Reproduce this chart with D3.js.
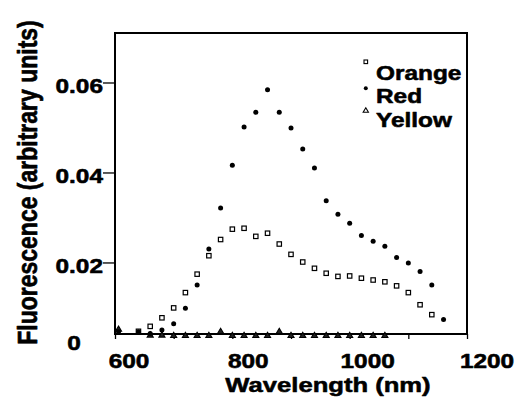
<!DOCTYPE html>
<html>
<head>
<meta charset="utf-8">
<script src="https://cdn.jsdelivr.net/npm/d3@7"></script>
<style>
  html, body { margin: 0; padding: 0; background: #fff; }
  svg { display: block; }
</style>
</head>
<body>
<svg id="chart" width="522" height="404"></svg>
<script>
// ---- data ----
const orangeWavelengths = [640, 660, 680, 700, 720, 740, 760, 780, 800, 820, 840, 860, 880,
  900, 920, 940, 960, 980, 1000, 1020, 1040, 1060, 1080, 1100, 1120, 1140];
const orangeValues = [0.0047, 0.0058, 0.0077, 0.0099, 0.0133, 0.0174, 0.0215, 0.0251, 0.0274,
  0.0276, 0.0258, 0.0265, 0.0241, 0.0218, 0.0201, 0.0187, 0.0176, 0.0169, 0.0170, 0.0165,
  0.0161, 0.0157, 0.0148, 0.0133, 0.0106, 0.0084];

const redWavelengths = [606, 640, 660, 680, 700, 720, 740, 760, 780, 800, 820, 840, 860, 880,
  900, 920, 940, 960, 980, 1000, 1020, 1040, 1060, 1080, 1100, 1120, 1140, 1160];
const redValues = [0.0046, 0.0046, 0.0042, 0.0050, 0.0064, 0.0098, 0.0150, 0.0230, 0.0321,
  0.0416, 0.0501, 0.0534, 0.0584, 0.0534, 0.0499, 0.0452, 0.0410, 0.0337, 0.0307, 0.0287,
  0.0260, 0.0247, 0.0236, 0.0211, 0.0199, 0.0180, 0.0150, 0.0073];

const yellowWavelengths = [606, 660, 680, 700, 720, 740, 760, 780, 800, 820, 840, 860, 880,
  900, 920, 940, 960, 980, 1000, 1020, 1040, 1060];
const yellowValues = [0.0051, 0.0038, 0.0038, 0.0037, 0.0037, 0.0037, 0.0037, 0.0046, 0.0037,
  0.0037, 0.0037, 0.0037, 0.0046, 0.0037, 0.0037, 0.0037, 0.0037, 0.0037, 0.0037, 0.0037,
  0.0037, 0.0037];

const seriesNames = ["Orange", "Red", "Yellow"];
const xTickValues = [600, 700, 800, 900, 1000, 1100, 1200];
const xTickLabels = [600, 800, 1000, 1200];
const yTickValues = [0.02, 0.04, 0.06];
const yTickLabels = ["0.02", "0.04", "0.06"];
const xTitle = "Wavelength (nm)";
const yTitle = "Fluorescence (arbitrary units)";

// ---- layout ----
const svg = d3.select("#chart");
const FONT = "'Liberation Sans', Arial, Helvetica, sans-serif";
const SX = 1.22; // horizontal stretch of the original artwork's text

const x = d3.scaleLinear().domain([600, 1200]).range([115, 467]);
const y = d3.scaleLinear().domain([0.0041, 0.071]).range([334, 33]);
// tick labels in the original are spread slightly wider than the tick marks
const xLabel = d3.scaleLinear().domain([600, 1200]).range([129, 487]);

function stxt(parent, px, py, str, size, anchor, rot) {
  const g = parent.append("g")
    .attr("transform", `translate(${px},${py}) scale(${SX},1)` + (rot ? ` rotate(${rot})` : ""));
  g.append("text")
    .attr("text-anchor", anchor)
    .style("font-family", FONT)
    .style("font-weight", "bold")
    .style("font-size", size + "px")
    .attr("fill", "#000")
    .attr("stroke", "#000")
    .attr("stroke-width", 0.55)
    .attr("stroke-linejoin", "round")
    .text(str);
  return g;
}

// ---- axes ----
const xAxis = d3.axisBottom(x).tickValues(xTickValues).tickSize(5).tickFormat("");
svg.append("g").attr("transform", `translate(0,${y.range()[0]})`).call(xAxis)
  .call(g => g.select(".domain").remove())
  .call(g => g.selectAll(".tick line").attr("stroke", "#000").attr("stroke-width", 1.3));

const yAxis = d3.axisLeft(y).tickValues(yTickValues).tickSize(12).tickFormat("");
svg.append("g").attr("transform", `translate(${x.range()[0]},0)`).call(yAxis)
  .call(g => g.select(".domain").remove())
  .call(g => g.selectAll(".tick line").attr("stroke", "#000").attr("stroke-width", 1.3));

// frame
svg.append("rect")
  .attr("x", x.range()[0]).attr("y", y.range()[1])
  .attr("width", x.range()[1] - x.range()[0])
  .attr("height", y.range()[0] - y.range()[1])
  .attr("fill", "none").attr("stroke", "#000").attr("stroke-width", 2);

// tick labels
xTickLabels.forEach(v => stxt(svg, xLabel(v), 368, String(v), 20, "middle"));
yTickValues.forEach((v, i) => stxt(svg, 103, y(v) + 11, yTickLabels[i], 20, "end"));
stxt(svg, 74, 350, "0", 20, "middle");

// titles
stxt(svg, 328, 391.5, xTitle, 21, "middle");
stxt(svg, 36.5, 182.5, yTitle, 23, "middle", -90);

// ---- marks ----
const plot = svg.append("g");
const triangle = d3.symbol().type(d3.symbolTriangle).size(16);

plot.selectAll("path.yellow")
  .data(yellowWavelengths.map((w, i) => ({ w, v: yellowValues[i] })))
  .join("path").attr("class", "yellow")
  .attr("d", triangle)
  .attr("transform", d => `translate(${x(d.w)},${y(d.v)})`)
  .attr("fill", "#222").attr("stroke", "#000").attr("stroke-width", 1.1);

plot.selectAll("rect.orange")
  .data(orangeWavelengths.map((w, i) => ({ w, v: orangeValues[i] })))
  .join("rect").attr("class", "orange")
  .attr("x", d => x(d.w) - 2.2).attr("y", d => y(d.v) - 2.2)
  .attr("width", 4.4).attr("height", 4.4)
  .attr("fill", "#fff").attr("stroke", "#000").attr("stroke-width", 1.2);

plot.selectAll("circle.red")
  .data(redWavelengths.map((w, i) => ({ w, v: redValues[i] })))
  .join("circle").attr("class", "red")
  .attr("cx", d => x(d.w)).attr("cy", d => y(d.v))
  .attr("r", 2.5).attr("fill", "#000");

// ---- legend ----
const legend = svg.append("g");
const legY = [80, 102.5, 126.5];
seriesNames.forEach((name, i) => stxt(legend, 376, legY[i], name, 20, "start"));
legend.append("rect").attr("x", 364).attr("y", 60).attr("width", 3.6).attr("height", 3.6)
  .attr("fill", "#fff").attr("stroke", "#000").attr("stroke-width", 1.1);
legend.append("circle").attr("cx", 365.8).attr("cy", 88.3).attr("r", 2).attr("fill", "#000");
legend.append("path").attr("d", d3.symbol().type(d3.symbolTriangle).size(12))
  .attr("transform", "translate(365.8,110.8)")
  .attr("fill", "#fff").attr("stroke", "#000").attr("stroke-width", 1.1);
</script>
</body>
</html>
